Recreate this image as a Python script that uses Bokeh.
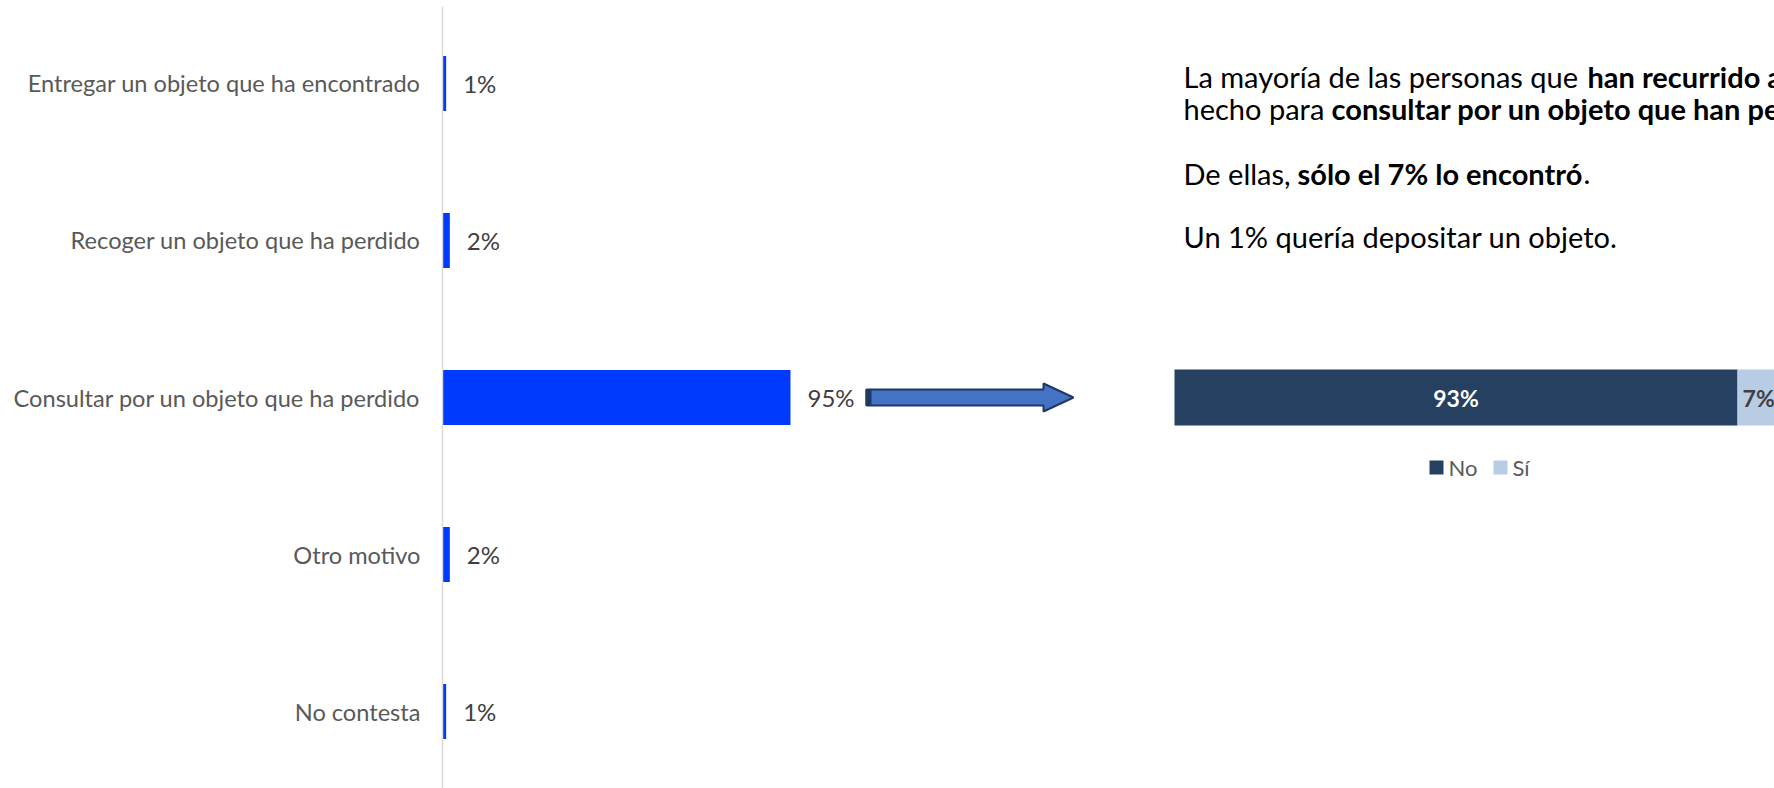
from bokeh.plotting import figure
from bokeh.models import Range1d, FactorRange
from bokeh.core.properties import value
from bokeh.embed import file_html
from bokeh.resources import INLINE

# ---------------- data ----------------
categories = [
    "Entregar un objeto que ha encontrado",
    "Recoger un objeto que ha perdido",
    "Consultar por un objeto que ha perdido",
    "Otro motivo",
    "No contesta",
]
values = [1, 2, 95, 2, 1]
value_labels = ["1%", "2%", "95%", "2%", "1%"]

found_series = ["No", "Sí"]
found_values = [93, 7]
found_labels = ["93%", "7%"]
found_colors = ["#264061", "#B8CCE4"]
found_label_colors = ["#FFFFFF", "#404040"]
found_category = "Consultar por un objeto que ha perdido"

# ---------------- layout constants ----------------
W, H = 1774, 788
LEFT = 442          # frame starts at page x = 442
TOP = 6             # frame starts at page y = 6
PAD = -0.01         # factor range padding (absolute)
PX_PER_PCT = 3.663  # left chart scale
FOUND_PX_PER_PCT = 6.054
FOUND_ZERO = 1174   # page x of 0% in the right stacked bar
FRAME_L, FRAME_R = LEFT, W
FRAME_T, FRAME_B = TOP, H
N = len(categories)
SPAN = N + 2 * PAD
Y_END = N + PAD
PX_PER_CAT = (FRAME_B - FRAME_T) / SPAN


def sy(page_y):
    """page pixel row -> synthetic coordinate of the categorical y range"""
    return Y_END - (page_y - FRAME_T) / PX_PER_CAT


FONT = value("Lato")

p = figure(
    width=W, height=H,
    y_range=FactorRange(factors=categories[::-1], range_padding=PAD,
                        range_padding_units="absolute"),
    x_range=Range1d(0, (FRAME_R - FRAME_L) / PX_PER_PCT),
    output_backend="svg", toolbar_location=None,
    min_border_left=LEFT, min_border_right=0,
    min_border_top=TOP, min_border_bottom=0,
    outline_line_color=None, background_fill_color="white",
)
p.extra_x_ranges = {
    "px": Range1d(FRAME_L, FRAME_R),
    "found": Range1d((FRAME_L - FOUND_ZERO) / FOUND_PX_PER_PCT,
                     (FRAME_R - FOUND_ZERO) / FOUND_PX_PER_PCT),
}

p.xgrid.visible = False
p.ygrid.visible = False
p.xaxis.visible = False

yax = p.yaxis[0]
yax.axis_line_color = "#D9D9D9"
yax.axis_line_width = 1.5
yax.major_tick_line_color = None
yax.major_tick_out = 0
yax.major_tick_in = 0
yax.minor_tick_line_color = None
yax.major_label_standoff = 22
yax.major_label_text_font = "Lato"
yax.major_label_text_font_size = "23.6px"
yax.major_label_text_color = "#595959"

# left bars
p.hbar(y=categories, left=0, right=values, height=0.35,
       fill_color="#003AFF", line_color=None)
p.text(x=values, y=categories, text=value_labels, x_offset=17,
       text_baseline="middle", text_align="left", text_font=FONT,
       text_font_size="24px", text_color="#404040")

# arrow (decoration)
ax = [866, 1043, 1043, 1073, 1043, 1043, 866]
ay = [sy(v) for v in [389, 389, 383, 397, 411, 405, 405]]
p.patch(ax, ay, x_range_name="px",
        fill_color="#4472C4", line_color="#1F3864", line_width=2)
p.quad(left=[865], right=[871], top=[sy(389)], bottom=[sy(405)],
       x_range_name="px", fill_color="#1F3864", line_color=None)

# right stacked bar
lefts, rights, centers = [], [], []
acc = 0
for v in found_values:
    lefts.append(acc)
    rights.append(acc + v)
    centers.append(acc + v / 2)
    acc += v
p.hbar(y=[found_category] * len(found_values), left=lefts, right=rights,
       height=0.357, fill_color=found_colors, line_color=None,
       x_range_name="found")
p.text(x=centers, y=[found_category] * len(found_values), text=found_labels,
       x_range_name="found", text_align="center", text_baseline="middle",
       text_font=FONT, text_font_style="bold", text_font_size="23px",
       text_color=found_label_colors)

# legend (manual)
lx = [1436, 1500]
p.rect(x=lx, y=[sy(467)] * 2, width=14, height=14, width_units="screen",
       height_units="screen", fill_color=found_colors,
       line_color=None, x_range_name="px")
p.text(x=[x + 12 for x in lx], y=[sy(467)] * 2, text=found_series,
       x_range_name="px", text_baseline="middle",
       text_font=FONT, text_font_size="22px", text_color="#595959")

# commentary text
TX = 1183
seg_x = [TX, 1587, TX, 1331, TX, 1297, 1583, TX]
seg_y = [sy(v) for v in [76, 76, 108, 108, 173, 173, 173, 236]]
seg_t = ["La mayoría de las personas que", "han recurrido a",
         "hecho para", "consultar por un objeto que han perdido",
         "De ellas,", "sólo el 7% lo encontró", ".",
         "Un 1% quería depositar un objeto."]
seg_s = ["normal", "bold", "normal", "bold", "normal", "bold", "normal", "normal"]
p.text(x=seg_x, y=seg_y, text=seg_t, text_font_style=seg_s,
       x_range_name="px", text_baseline="alphabetic",
       text_font=FONT, text_font_size="29px", text_color="#000000")

open("out.html", "w").write(file_html(p, INLINE))
